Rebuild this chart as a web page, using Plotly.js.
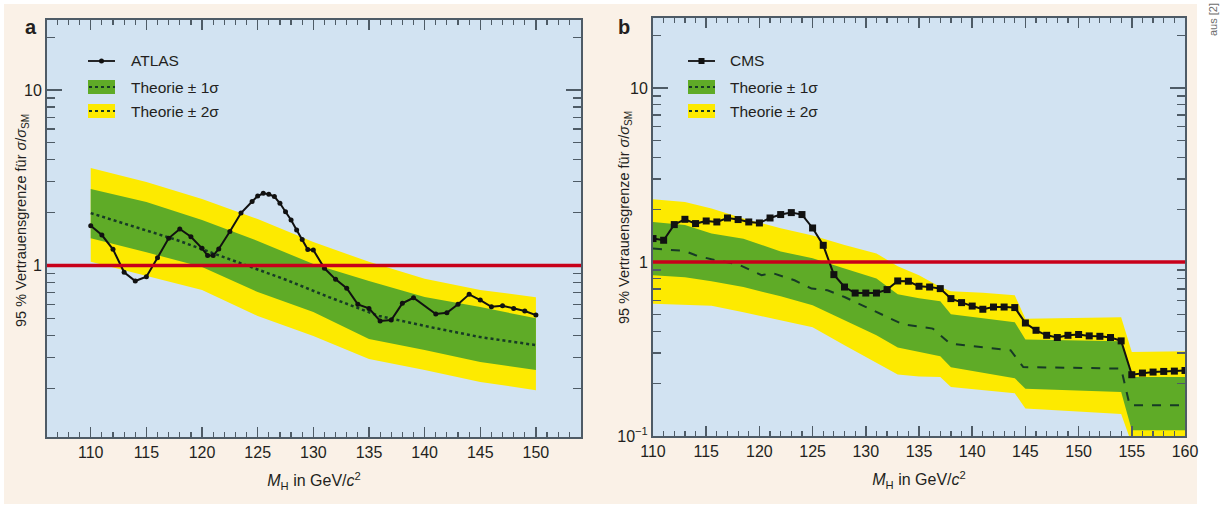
<!DOCTYPE html>
<html>
<head>
<meta charset="utf-8">
<script src="https://cdn.plot.ly/plotly-3.0.1.min.js"></script>
<style>
html,body{margin:0;padding:0;background:#ffffff;}
#chart{width:1227px;height:506px;}
</style>
</head>
<body>
<div id="chart"></div>
<script>
// ---------------- ATLAS (panel a) ----------------
const atlasMass = [110,111,112,113,114,115,116,117,118,119,120,120.5,121,121.5,122.5,123.5,124.5,125,125.5,126,126.5,127,127.5,128,128.5,129,129.5,130,131,132,133,134,135,136,137,138,139,141,142,143,144,145,146,147,148,149,150];
const atlasObserved = [1.686,1.492,1.237,0.915,0.816,0.863,1.108,1.429,1.614,1.459,1.253,1.140,1.140,1.242,1.562,1.991,2.316,2.489,2.579,2.545,2.473,2.262,2.026,1.816,1.594,1.406,1.234,1.226,0.964,0.834,0.742,0.601,0.570,0.483,0.489,0.609,0.655,0.529,0.538,0.601,0.685,0.636,0.582,0.590,0.570,0.551,0.522];

const atlasBandMass  = [110,115,120,125,130,135,140,145,150];
const atlasYellowHi  = [3.59,2.99,2.39,1.84,1.36,1.05,0.84,0.725,0.66];
const atlasGreenHi   = [2.73,2.30,1.82,1.38,1.02,0.816,0.661,0.58,0.50];
const atlasGreenLo   = [1.43,1.19,0.98,0.706,0.543,0.381,0.33,0.282,0.254];
const atlasYellowLo  = [1.05,0.87,0.725,0.516,0.397,0.293,0.254,0.217,0.195];

const atlasExpMass   = [110,117.7,127.6,131.4,135.9,140.5,145,150];
const atlasExpected  = [1.99,1.40,0.827,0.661,0.516,0.446,0.391,0.352];

// ---------------- CMS (panel b) ----------------
const cmsMass = [110,111,112,113,114,115,116,117,118,119,120,121,122,123,124,125,126,127,128,129,130,131,132,133,134,135,136,137,138,139,140,141,142,143,144,145,146,147,148,149,150,151,152,153,154,155,156,157,158,159,160];
const cmsObserved = [1.363,1.333,1.640,1.759,1.662,1.720,1.698,1.790,1.753,1.698,1.676,1.790,1.873,1.922,1.873,1.568,1.247,0.846,0.718,0.663,0.663,0.663,0.694,0.778,0.775,0.725,0.718,0.703,0.616,0.584,0.558,0.535,0.551,0.551,0.547,0.446,0.405,0.379,0.368,0.379,0.383,0.376,0.374,0.368,0.352,0.225,0.230,0.233,0.235,0.236,0.238];

const cmsBandMass = [110,113,115.5,118.5,122,125,128,131,133,135,137,138,141,144,145,150,154,155,160];
const cmsYellowHi = [2.29,2.21,2.03,1.78,1.56,1.42,1.25,1.12,0.945,0.839,0.718,0.679,0.665,0.643,0.472,0.478,0.481,0.304,0.307];
const cmsGreenHi  = [1.70,1.63,1.46,1.36,1.15,1.05,0.917,0.803,0.652,0.618,0.594,0.501,0.475,0.450,0.359,0.355,0.350,0.218,0.218];
const cmsGreenLo  = [0.839,0.817,0.775,0.718,0.635,0.564,0.462,0.379,0.323,0.303,0.287,0.248,0.232,0.215,0.187,0.183,0.179,0.108,0.108];
const cmsYellowLo = [0.575,0.568,0.560,0.514,0.462,0.421,0.332,0.265,0.226,0.220,0.218,0.191,0.183,0.176,0.144,0.139,0.134,0.09,0.09];

const cmsExpMass  = [110,113,114,115.5,118,120.2,121.2,123.3,124.9,126.4,128,131.1,133.5,136.3,137.9,143.6,144.8,154,154.8,160];
const cmsExpected = [1.194,1.157,1.093,1.036,0.970,0.839,0.865,0.785,0.703,0.688,0.629,0.516,0.438,0.414,0.340,0.311,0.249,0.244,0.150,0.150];

// tick labels / text
const yTickValsA = [1,10];
const yTickTextA = ['1','10'];
const yTickValsB = [0.1,1,10];
const yTickTextB = ['10<sup>\u22121</sup>','1','10'];
const legendA = ['ATLAS','Theorie \u00b1 1\u03c3','Theorie \u00b1 2\u03c3'];
const legendB = ['CMS','Theorie \u00b1 1\u03c3','Theorie \u00b1 2\u03c3'];
const yTitle = '95 % Vertrauensgrenze f\u00fcr <i>\u03c3</i>/<i>\u03c3</i><sub>SM</sub>';
const xTitle = '<i>M</i><sub>H</sub> in GeV/<i>c</i><sup>2</sup>';

// ---------------- styling ----------------
const W = 1227, H = 506;
const FONT = '"Liberation Sans", Arial, sans-serif';
const YELLOW = '#fdea00', GREEN = '#5fab27', RED = '#c8001a', AXC = '#4e5b66';
const BG = '#d2e3f2', CREAM = '#faf1e7', TXT = '#231f20', MED = '#173a26';
const px = v => v / W;           // pixel -> paper x
const py = v => 1 - v / H;       // pixel -> paper y

function bandTraces(mass, lo, hi, color, xa, ya) {
  return [
    {x: mass, y: lo, xaxis: xa, yaxis: ya, mode: 'lines', line: {width: 0, color: color}, hoverinfo: 'skip', showlegend: false},
    {x: mass, y: hi, xaxis: xa, yaxis: ya, mode: 'lines', line: {width: 0, color: color}, fill: 'tonexty', fillcolor: color, hoverinfo: 'skip', showlegend: false}
  ];
}

const traces = [].concat(
  bandTraces(atlasBandMass, atlasYellowLo, atlasYellowHi, YELLOW, 'x', 'y'),
  bandTraces(atlasBandMass, atlasGreenLo, atlasGreenHi, GREEN, 'x', 'y'),
  [{x: atlasExpMass, y: atlasExpected, xaxis: 'x', yaxis: 'y', mode: 'lines', line: {color: MED, width: 2.5, dash: 'dot'}, showlegend: false, name: 'Erwartet'},
   {x: atlasMass, y: atlasObserved, xaxis: 'x', yaxis: 'y', mode: 'lines+markers', line: {color: '#111', width: 2}, marker: {size: 5, color: '#111'}, showlegend: false, name: 'ATLAS'}],
  bandTraces(cmsBandMass, cmsYellowLo, cmsYellowHi, YELLOW, 'x2', 'y2'),
  bandTraces(cmsBandMass, cmsGreenLo, cmsGreenHi, GREEN, 'x2', 'y2'),
  [{x: cmsExpMass, y: cmsExpected, xaxis: 'x2', yaxis: 'y2', mode: 'lines', line: {color: MED, width: 2, dash: 'dash'}, showlegend: false, name: 'Erwartet'},
   {x: cmsMass, y: cmsObserved, xaxis: 'x2', yaxis: 'y2', mode: 'lines+markers', line: {color: '#111', width: 2}, marker: {size: 7, symbol: 'square', color: '#111'}, showlegend: false, name: 'CMS'}]
);

function xAxis(domain, range, anchor) {
  return {
    domain: domain, range: range, anchor: anchor,
    tick0: 110, dtick: 5, ticks: 'inside', ticklen: 10, tickwidth: 1.5, tickcolor: AXC,
    minor: {dtick: 1, ticks: 'inside', ticklen: 5, tickwidth: 1.2, tickcolor: AXC},
    showline: true, linecolor: AXC, linewidth: 2, mirror: 'ticks',
    showgrid: false, zeroline: false,
    tickfont: {family: FONT, size: 16, color: TXT},
    title: {text: xTitle, font: {family: FONT, size: 16, color: TXT}, standoff: 15}
  };
}
function yAxis(domain, range, anchor, vals, text) {
  return {
    domain: domain, range: range, anchor: anchor, type: 'log',
    tickmode: 'array', tickvals: vals, ticktext: text,
    ticks: 'inside', ticklen: 15, tickwidth: 1.5, tickcolor: AXC,
    minor: {dtick: 'D1', ticks: 'inside', ticklen: 8, tickwidth: 1.2, tickcolor: AXC},
    showline: true, linecolor: AXC, linewidth: 2, mirror: 'ticks',
    showgrid: false, zeroline: false,
    tickfont: {family: FONT, size: 16, color: TXT}
  };
}

// legend (drawn in paper space near the top-left corner of each panel)
function legendShapes(x0, markerSym) {
  const c = x0 + 13.5;
  const marker = markerSym === 'square'
    ? {type: 'rect', xref: 'paper', yref: 'paper', x0: px(c - 3), x1: px(c + 3), y0: py(64), y1: py(58), fillcolor: '#111', line: {width: 0}}
    : {type: 'circle', xref: 'paper', yref: 'paper', x0: px(c - 2.5), x1: px(c + 2.5), y0: py(63.5), y1: py(58.5), fillcolor: '#111', line: {width: 0}};
  return [
    {type: 'line', xref: 'paper', yref: 'paper', x0: px(x0), x1: px(x0 + 27), y0: py(61), y1: py(61), line: {color: '#111', width: 1.8}},
    marker,
    {type: 'rect', xref: 'paper', yref: 'paper', x0: px(x0), x1: px(x0 + 27), y0: py(94), y1: py(80), fillcolor: GREEN, line: {width: 0}},
    {type: 'line', xref: 'paper', yref: 'paper', x0: px(x0 + 1), x1: px(x0 + 27), y0: py(87), y1: py(87), line: {color: MED, width: 2, dash: 'dot'}},
    {type: 'rect', xref: 'paper', yref: 'paper', x0: px(x0), x1: px(x0 + 27), y0: py(118), y1: py(104), fillcolor: YELLOW, line: {width: 0}},
    {type: 'line', xref: 'paper', yref: 'paper', x0: px(x0 + 1), x1: px(x0 + 27), y0: py(111), y1: py(111), line: {color: MED, width: 2, dash: 'dot'}}
  ];
}
function legendText(x0, labels) {
  return labels.map((t, i) => ({
    xref: 'paper', yref: 'paper', x: px(x0), y: py([61, 87, 111][i]), xanchor: 'left', yanchor: 'middle',
    text: t, showarrow: false, font: {family: FONT, size: 15.5, color: TXT}
  }));
}

const layout = {
  width: W, height: H,
  margin: {l: 0, r: 0, t: 0, b: 0},
  paper_bgcolor: '#ffffff', plot_bgcolor: BG,
  showlegend: false,
  xaxis: xAxis([px(47), px(581)], [106.07, 154.05], 'y'),
  yaxis: yAxis([1 - 437 / H, 1 - 20 / H], [-0.977, 1.399], 'x', yTickValsA, yTickTextA),
  xaxis2: xAxis([px(653), px(1185)], [110, 160], 'y2'),
  yaxis2: yAxis([1 - 436 / H, 1 - 18 / H], [-1.0, 1.402], 'x2', yTickValsB, yTickTextB),
  shapes: [
    {type: 'rect', xref: 'paper', yref: 'paper', x0: px(4), x1: px(1197), y0: py(504), y1: py(4), fillcolor: CREAM, line: {width: 0}, layer: 'below'},
    {type: 'rect', xref: 'x domain', yref: 'y domain', x0: 0, x1: 1, y0: 0, y1: 1, fillcolor: BG, line: {width: 0}, layer: 'below'},
    {type: 'rect', xref: 'x2 domain', yref: 'y2 domain', x0: 0, x1: 1, y0: 0, y1: 1, fillcolor: BG, line: {width: 0}, layer: 'below'},
    {type: 'line', xref: 'x domain', yref: 'y', x0: 0, x1: 1, y0: 1, y1: 1, line: {color: RED, width: 3.5}, layer: 'above'},
    {type: 'line', xref: 'x2 domain', yref: 'y2', x0: 0, x1: 1, y0: 1, y1: 1, line: {color: RED, width: 3.5}, layer: 'above'}
  ].concat(legendShapes(88, 'circle'), legendShapes(688, 'square')),
  annotations: [
    {xref: 'paper', yref: 'paper', x: px(31), y: py(27), text: '<b>a</b>', showarrow: false, xanchor: 'center', yanchor: 'middle', font: {family: FONT, size: 20, color: TXT}},
    {xref: 'paper', yref: 'paper', x: px(624), y: py(27), text: '<b>b</b>', showarrow: false, xanchor: 'center', yanchor: 'middle', font: {family: FONT, size: 20, color: TXT}},
    {xref: 'paper', yref: 'paper', x: px(1213), y: py(20), text: 'aus [2]', textangle: -90, showarrow: false, xanchor: 'center', yanchor: 'middle', font: {family: FONT, size: 11, color: '#6d6d6d'}},
    {xref: 'paper', yref: 'paper', x: px(22), y: py(221), text: yTitle, textangle: -90, showarrow: false, xanchor: 'center', yanchor: 'middle', font: {family: FONT, size: 14.5, color: TXT}},
    {xref: 'paper', yref: 'paper', x: px(625), y: py(218), text: yTitle, textangle: -90, showarrow: false, xanchor: 'center', yanchor: 'middle', font: {family: FONT, size: 14.5, color: TXT}}
  ].concat(legendText(129, legendA), legendText(728, legendB))
};

Plotly.newPlot('chart', traces, layout, {displayModeBar: false, staticPlot: true});
</script>
</body>
</html>
